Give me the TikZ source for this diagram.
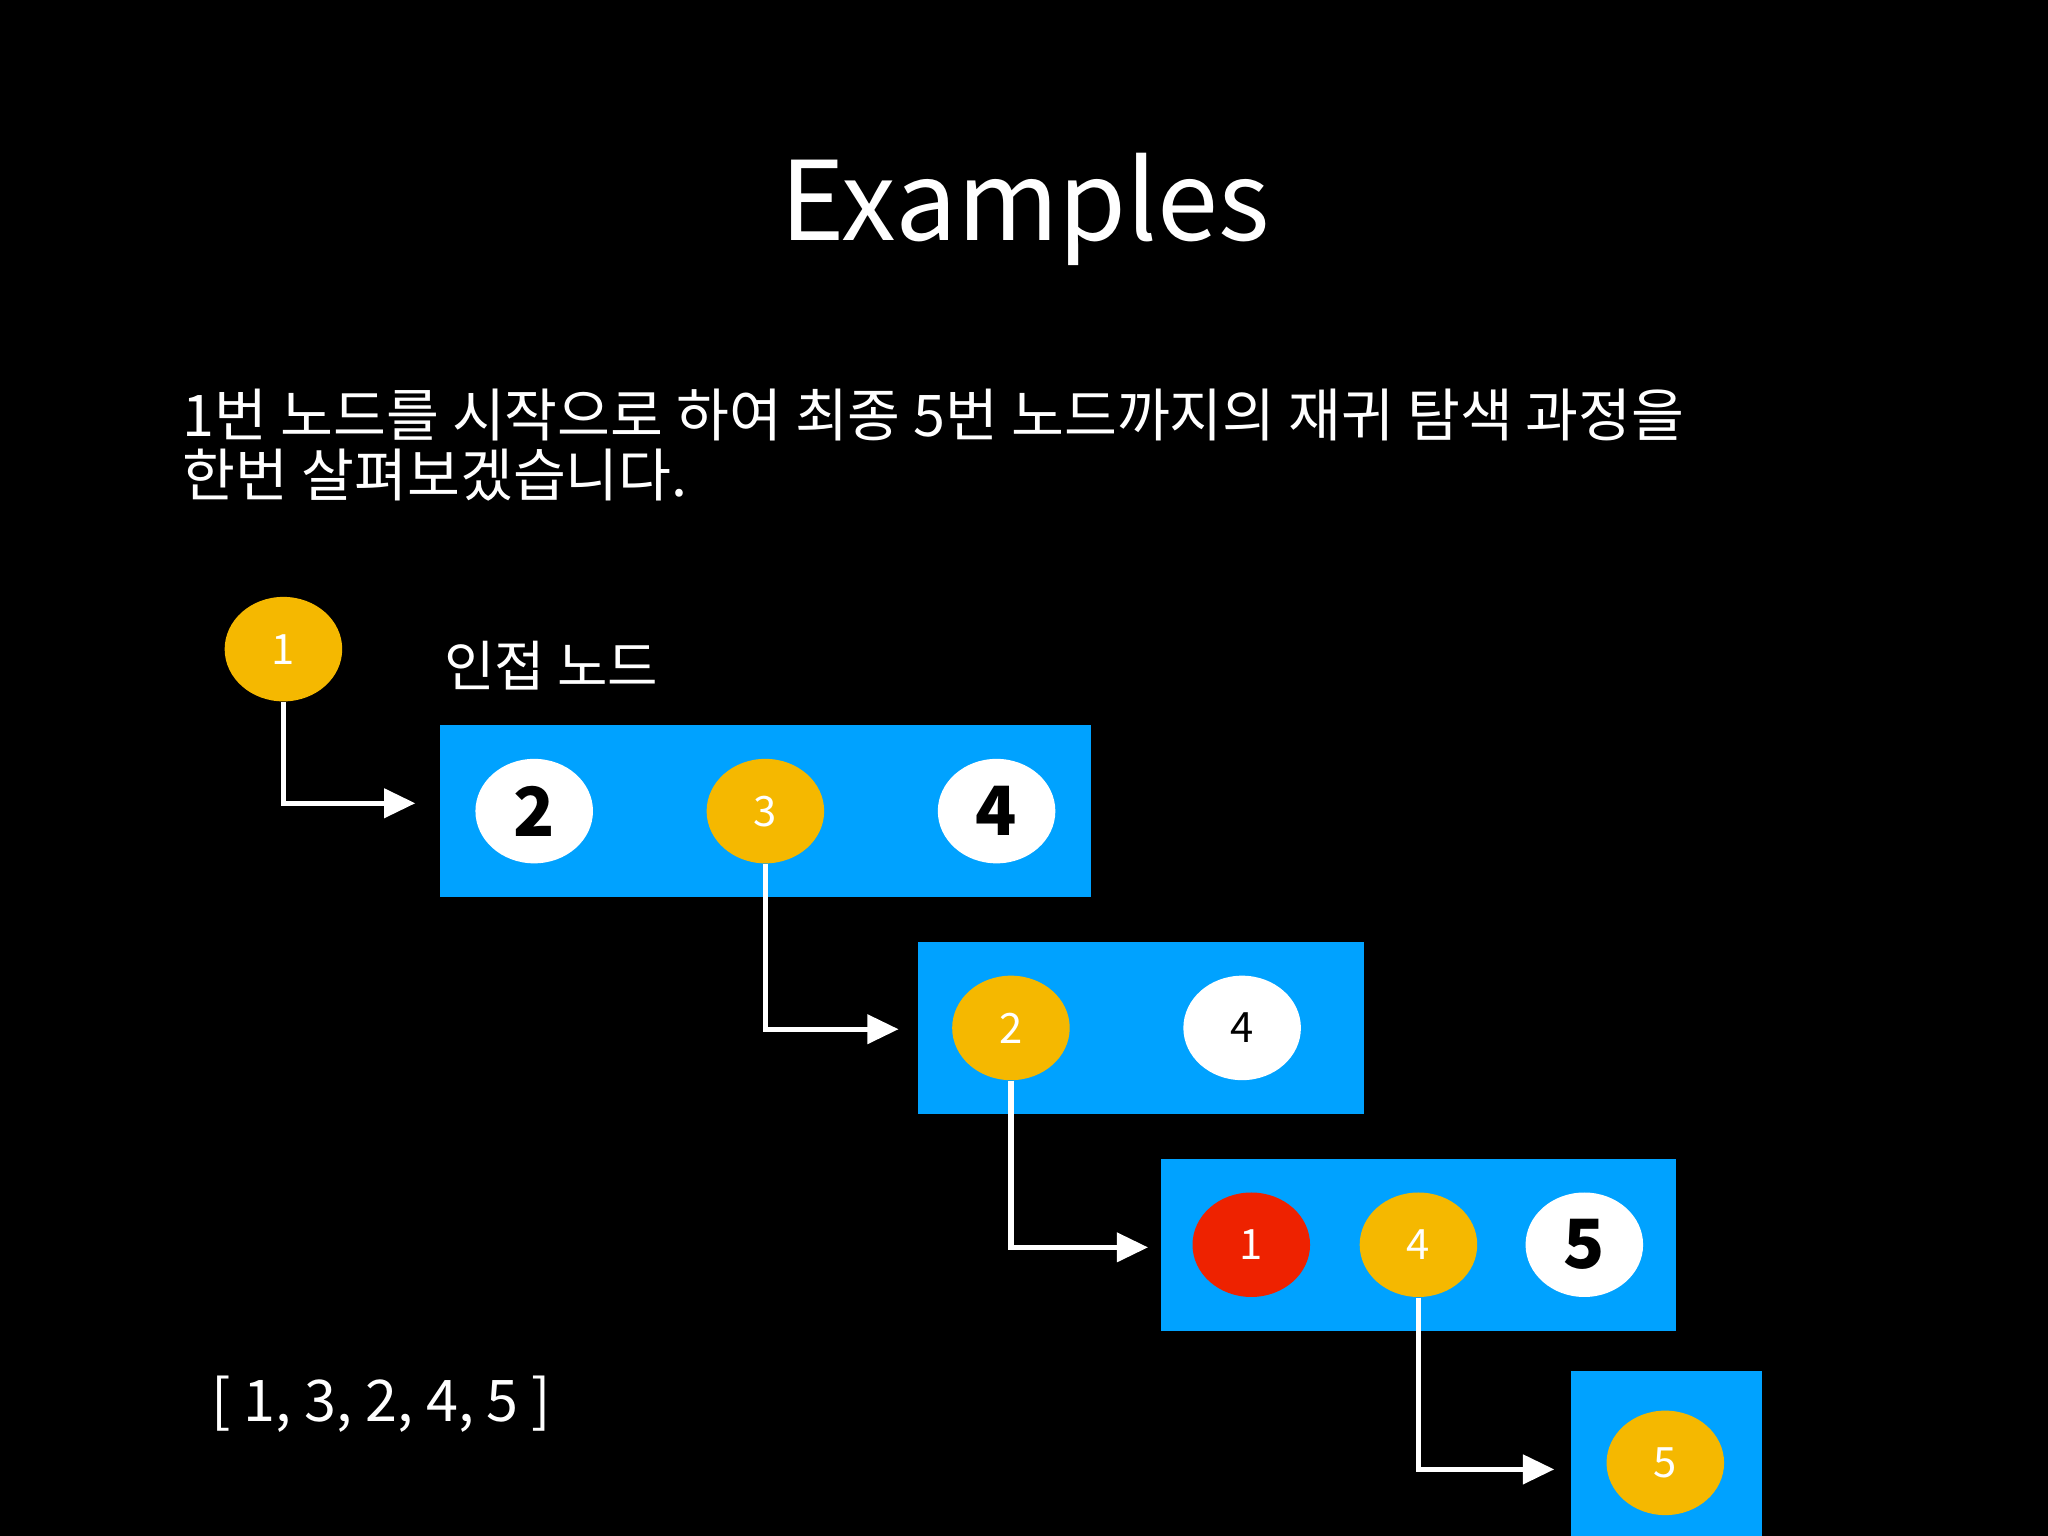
\documentclass[tikz,border=0pt]{standalone}
\usepackage{fontspec}
\setmainfont{Noto Sans CJK KR}
\usetikzlibrary{arrows.meta,shapes.geometric}
\definecolor{bx}{HTML}{00A2FF}
\definecolor{og}{HTML}{F5B800}
\definecolor{rd}{HTML}{EE2200}
\tikzset{
 box/.style={fill=bx,draw=none},
 nd/.style={ellipse,minimum width=45pt,minimum height=40pt,inner sep=0pt,draw=none},
 onode/.style={nd,fill=og,text=white,font=\fontsize{16}{16}\selectfont},
 wsmall/.style={nd,fill=white,text=black,font=\fontsize{16}{16}\selectfont},
 wbig/.style={nd,fill=white,text=black,font=\fontsize{26}{26}\selectfont\bfseries},
 rnode/.style={nd,fill=rd,text=white,font=\fontsize{16}{16}\selectfont},
 arr/.style={draw=white,line width=2pt,-{Triangle[length=12pt,width=11pt]}},
}
\begin{document}
\begin{tikzpicture}[x=0.5pt,y=-0.5pt]
\fill[black] (0,0) rectangle (1568,1176);
\useasboundingbox (0,0) rectangle (1568,1176);
\node[text=white,font=\fontsize{42}{42}\selectfont] (title) at (785,160) {Examples};
\node[text=white,anchor=west,align=left,font=\fontsize{22}{23}\selectfont] (desc) at (133,341) {1번 노드를 시작으로 하여 최종 5번 노드까지의 재귀 탐색 과정을\\한번 살펴보겠습니다.};
\node[onode] (n1) at (217,497) {1};
\node[text=white,anchor=west,font=\fontsize{21}{21}\selectfont] (adj) at (333,510) {인접 노드};
\fill[box] (337,555) rectangle (835,687);
\node[wbig] (a2) at (409,621) {2};
\node[onode] (a3) at (586,621) {3};
\node[wbig] (a4) at (763,621) {4};
\fill[box] (703,721) rectangle (1044,853);
\node[onode] (b2) at (774,787) {2};
\node[wsmall] (b4) at (951,787) {4};
\fill[box] (889,887) rectangle (1283,1019);
\node[rnode] (c1) at (958,953) {1};
\node[onode] (c4) at (1086,953) {4};
\node[wbig] (c5) at (1213,953) {5};
\fill[box] (1203,1050) rectangle (1349,1176);
\node[onode] (d5) at (1275,1120) {5};
\coordinate (t1) at (318,615);
\coordinate (t2) at (688,788);
\coordinate (t3) at (879,955);
\coordinate (t4) at (1190,1125);
\draw[arr] (n1.south) |- (t1);
\draw[arr] (a3.south) |- (t2);
\draw[arr] (b2.south) |- (t3);
\draw[arr] (c4.south) |- (t4);
\node[text=white,anchor=west,font=\fontsize{22}{22}\selectfont] (lst) at (155,1075) {[ 1, 3, 2, 4, 5 ]};
\end{tikzpicture}
\end{document}
